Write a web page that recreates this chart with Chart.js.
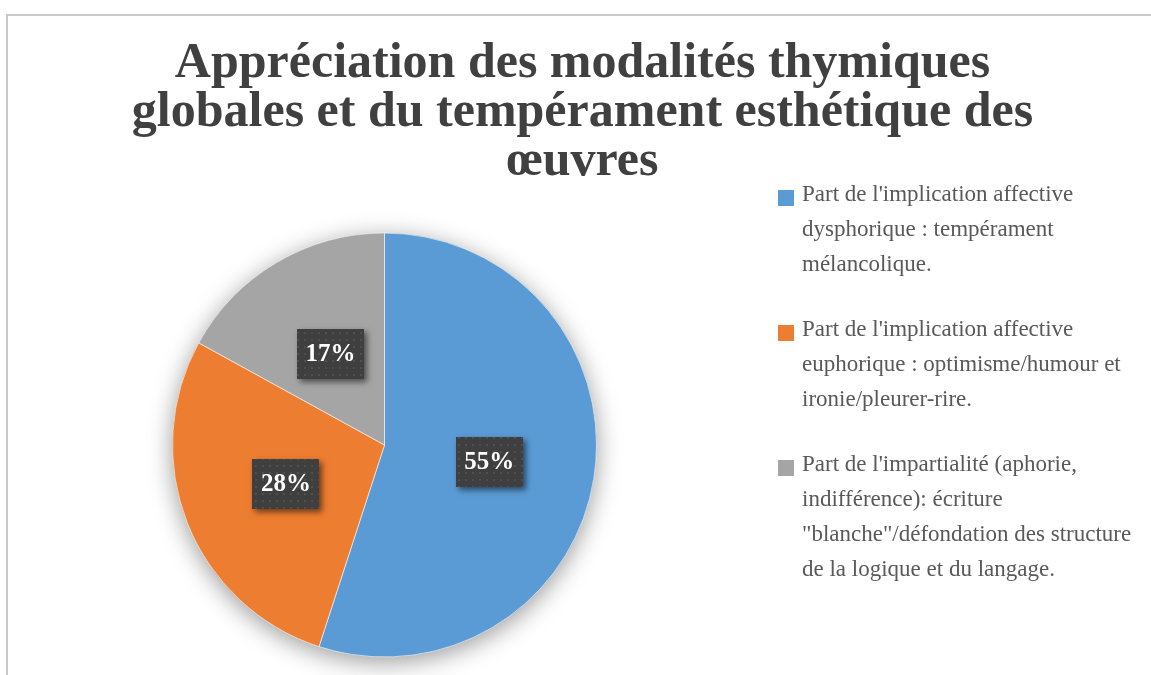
<!DOCTYPE html>
<html>
<head>
<meta charset="utf-8">
<script src="https://cdn.jsdelivr.net/npm/chart.js@4.4.1/dist/chart.umd.min.js"></script>
<style>
  html, body { margin: 0; padding: 0; background: #fff; }
  body { width: 1151px; height: 675px; position: relative; overflow: hidden; }
  #frame { position: absolute; left: 6px; top: 14px; width: 1200px; height: 700px;
           border-left: 2px solid #c9c9c9; border-top: 2px solid #c9c9c9; box-sizing: border-box; }
  #title { position: absolute; left: 11px; width: 1143px; top: 36px; text-align: center;
           font-family: "Liberation Serif", "DejaVu Serif", serif; font-weight: bold;
           font-size: 50px; line-height: 49px; color: #404040; }
  #chartWrap { position: absolute; left: 0; top: 0; width: 1151px; height: 675px; }
  #legend { position: absolute; left: 778px; top: 176px; width: 373px;
            font-family: "Liberation Serif", "DejaVu Serif", serif; font-size: 23px;
            line-height: 35px; color: #595959; white-space: nowrap; }
  .item { position: relative; padding-left: 24px; margin-bottom: 30px; }
  .sw { position: absolute; left: 0; top: 14px; width: 16px; height: 16px; }
</style>
</head>
<body>
<div id="frame"></div>
<div id="chartWrap"><canvas id="c" width="1151" height="675"></canvas></div>
<div id="title"></div>
<div id="legend"></div>
<script>
const titleLines = [
  "Appréciation des modalités thymiques",
  "globales et du tempérament esthétique des",
  "œuvres"
];
const categories = [
  ["Part de l'implication affective", "dysphorique : tempérament", "mélancolique."],
  ["Part de l'implication affective", "euphorique : optimisme/humour et", "ironie/pleurer-rire."],
  ["Part de l'impartialité (aphorie,", "indifférence): écriture", "\"blanche\"/défondation des structure", "de la logique et du langage."]
];
const values = [55, 28, 17];
const colors = ["#5B9BD5", "#ED7D31", "#A5A5A5"];

// Title
const t = document.getElementById('title');
titleLines.forEach((l, i) => {
  if (i) t.appendChild(document.createElement('br'));
  t.appendChild(document.createTextNode(l));
});

// Legend
const lg = document.getElementById('legend');
categories.forEach((lines, i) => {
  const it = document.createElement('div');
  it.className = 'item';
  const sw = document.createElement('span');
  sw.className = 'sw';
  sw.style.background = colors[i];
  it.appendChild(sw);
  lines.forEach((l, j) => {
    if (j) it.appendChild(document.createElement('br'));
    it.appendChild(document.createTextNode(l));
  });
  lg.appendChild(it);
});

// dotted pattern for labels
function makePattern(ctx) {
  const p = document.createElement('canvas');
  p.width = 7; p.height = 7;
  const pc = p.getContext('2d');
  pc.fillStyle = '#3f3f3f';
  pc.fillRect(0, 0, 7, 7);
  pc.fillStyle = '#4f4f4f';
  pc.fillRect(3, 3, 2, 2);
  return ctx.createPattern(p, 'repeat');
}

const shadowPlugin = {
  id: 'pieShadow',
  beforeDatasetsDraw(chart) {
    const meta = chart.getDatasetMeta(0);
    const a = meta.data[0];
    if (!a) return;
    const ctx = chart.ctx;
    ctx.save();
    ctx.shadowColor = 'rgba(0,0,0,0.4)';
    ctx.shadowBlur = 24;
    ctx.shadowOffsetX = 0;
    ctx.shadowOffsetY = 5;
    ctx.fillStyle = '#999';
    ctx.beginPath();
    ctx.arc(a.x, a.y, a.outerRadius, 0, Math.PI * 2);
    ctx.fill();
    ctx.restore();
  }
};

const labelPlugin = {
  id: 'boxLabels',
  afterDatasetsDraw(chart) {
    const ctx = chart.ctx;
    const meta = chart.getDatasetMeta(0);
    const pat = makePattern(ctx);
    ctx.save();
    ctx.font = 'bold 25px "Liberation Serif", serif';
    meta.data.forEach((arc, i) => {
      const pos = arc.tooltipPosition();
      const txt = values[i] + '%';
      const w = 67, h = 50;
      const x = Math.round(pos.x - w / 2), y = Math.round(pos.y - h / 2);
      ctx.save();
      ctx.shadowColor = 'rgba(0,0,0,0.55)';
      ctx.shadowBlur = 6;
      ctx.shadowOffsetX = 3;
      ctx.shadowOffsetY = 3;
      ctx.fillStyle = '#3f3f3f';
      ctx.fillRect(x, y, w, h);
      ctx.restore();
      ctx.fillStyle = pat;
      ctx.fillRect(x, y, w, h);
      ctx.fillStyle = '#ffffff';
      ctx.textAlign = 'center';
      ctx.textBaseline = 'middle';
      ctx.fillText(txt, pos.x, pos.y + 1);
    });
    ctx.restore();
  }
};

new Chart(document.getElementById('c'), {
  type: 'pie',
  data: {
    labels: categories,
    datasets: [{
      data: values,
      backgroundColor: colors,
      borderColor: 'rgba(255,255,255,0.6)',
      borderWidth: 1,
      hoverOffset: 0
    }]
  },
  options: {
    responsive: false,
    animation: false,
    layout: { padding: { left: 172, right: 554, top: 232, bottom: 17 } },
    plugins: {
      legend: { display: false },
      tooltip: { enabled: false },
      title: { display: false }
    }
  },
  plugins: [shadowPlugin, labelPlugin]
});
</script>
</body>
</html>
